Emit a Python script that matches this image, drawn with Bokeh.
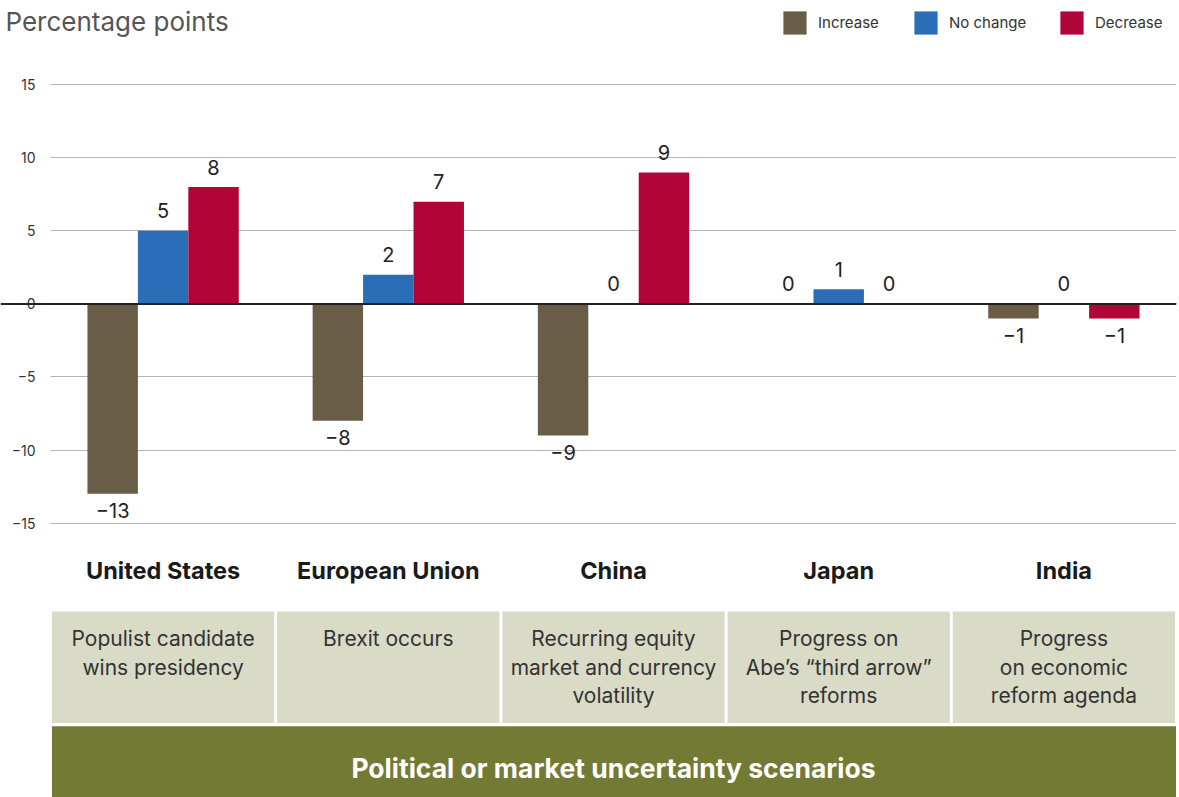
from bokeh.plotting import figure
from bokeh.models import (ColumnDataSource, Range1d, FixedTicker, Span,
                          Legend, LegendItem)
from bokeh.core.properties import value
from bokeh.embed import file_html
from bokeh.resources import INLINE

# ---- data ----
regions = ["United States", "European Union", "China", "Japan", "India"]
scenarios = [["Populist candidate", "wins presidency"],
             ["Brexit occurs"],
             ["Recurring equity", "market and currency", "volatility"],
             ["Progress on", "Abe\u2019s \u201cthird arrow\u201d", "reforms"],
             ["Progress", "on economic", "reform agenda"]]
increase = [-13, -8, -9, 0, -1]
no_change = [5, 2, 0, 1, 0]
decrease = [8, 7, 9, 0, -1]
series_names = ["Increase", "No change", "Decrease"]
y_ticks = [-15, -10, -5, 0, 5, 10, 15]
banner_text = "Political or market uncertainty scenarios"
y_title = "Percentage points"

colors = ["#6a5d48", "#2a6eb8", "#b10538"]
FONT = "Inter"
W, H = 1179, 797
PX = 14.61          # pixels per y unit
Y0 = 303.4          # pixel row of y = 0
GW = 225.2          # pixels per group
LEFT = 50           # pixel column where the groups start


def fmt(v):
    return ("\u2212" + str(abs(v))) if v < 0 else str(v)


def yv(py):
    return (Y0 - py) / PX


def xv(px):
    return -0.5 + (px - LEFT) / GW


p = figure(width=W, height=H, output_backend="svg", toolbar_location=None,
           x_range=Range1d(xv(0), 4.5), y_range=Range1d(yv(H), yv(0)),
           title=None, min_border_left=0, min_border_right=W - 1176,
           min_border_top=0, min_border_bottom=0, x_axis_location=None)
p.outline_line_color = None
p.xgrid.visible = False
grid = p.ygrid[0]
grid.ticker = FixedTicker(ticks=y_ticks)
grid.grid_line_color = "#b4b4b4"
grid.grid_line_width = 1
if "cross_bounds" in grid.properties():
    grid.cross_bounds = (-0.5, 4.5)
else:
    p.quad(left=[xv(0)], right=[-0.5], top=[yv(0)], bottom=[yv(H)],
           fill_color="white", line_color=None)

ax = p.yaxis[0]
ax.ticker = FixedTicker(ticks=y_ticks)
ax.major_label_overrides = {t: fmt(t) for t in y_ticks}
ax.axis_line_color = None
ax.major_tick_line_color = None
ax.minor_tick_line_color = None
ax.major_tick_out = 0
ax.major_tick_in = 0
ax.minor_tick_out = 0
ax.major_label_text_font = FONT
ax.major_label_text_font_size = "14px"
ax.major_label_text_color = "#333333"
ax.major_label_standoff = -35

# title
p.text(x=[xv(5)], y=[yv(20.5)], text=[y_title], text_baseline="middle",
       text_font=value(FONT), text_font_size="26px", text_color="#555555")

bw = 0.224
offsets = [-bw, 0.0, bw]
bar_renderers = []
for vals, off, col in zip([increase, no_change, decrease], offsets, colors):
    xs = [i + off for i in range(len(regions))]
    src = ColumnDataSource(dict(x=xs, top=vals))
    r = p.vbar(x="x", top="top", bottom=0, width=bw, source=src,
               fill_color=col, line_color=None)
    bar_renderers.append(r)
    pos = ColumnDataSource(dict(x=[x for x, v in zip(xs, vals) if v >= 0],
                                y=[v for v in vals if v >= 0],
                                t=[fmt(v) for v in vals if v >= 0]))
    neg = ColumnDataSource(dict(x=[x for x, v in zip(xs, vals) if v < 0],
                                y=[v for v in vals if v < 0],
                                t=[fmt(v) for v in vals if v < 0]))
    for s, yo in ((pos, -20), (neg, 17)):
        p.text(x="x", y="y", text="t", source=s, text_align="center",
               text_baseline="middle", y_offset=yo, text_font=value(FONT),
               text_font_size="20px", text_color="#222222")

p.add_layout(Span(location=0, dimension="width", line_color="#222222", line_width=2))

xi = list(range(len(regions)))
# region labels
p.text(x=xi, y=[yv(569.7)] * 5, text=regions, text_align="center",
       text_baseline="middle", text_font=value(FONT), text_font_style="bold",
       text_font_size="23.5px", text_color="#1a1a1a")

# scenario boxes
g = 0.0065
p.quad(left=[i - 0.5 + g for i in xi], right=[i + 0.5 - g for i in xi],
       top=[yv(611)] * 5, bottom=[yv(722.5)] * 5,
       fill_color="#d9dbc6", line_color=None)
lx, ly, lt = [], [], []
for i, lines in enumerate(scenarios):
    for k, line in enumerate(lines):
        lx.append(i)
        ly.append(yv(638 + 28.7 * k))
        lt.append(line)
p.text(x=lx, y=ly, text=lt, text_align="center", text_baseline="middle",
       text_font=value(FONT), text_font_size="21px", text_color="#333333")

# banner
p.quad(left=[-0.5 + g], right=[4.5 - 0.002], top=[yv(725.7)],
       bottom=[yv(H) - 1], fill_color="#737a34", line_color=None)
p.text(x=[2], y=[yv(767)], text=[banner_text], text_align="center",
       text_baseline="middle", text_font=value(FONT), text_font_style="bold",
       text_font_size="26.5px", text_color="white")

# legend: one box per series, placed like the reference
legend_x = [780, 911, 1057]
for name, r, lx0 in zip(series_names, bar_renderers, legend_x):
    lg = Legend(items=[LegendItem(label=name, renderers=[r])], location=(lx0, H - 37),
                glyph_width=29, glyph_height=29, label_height=29, label_standoff=9,
                padding=0, margin=0, border_line_color=None, background_fill_alpha=0,
                label_text_font=FONT, label_text_font_size="15px",
                label_text_color="#333333")
    p.add_layout(lg, "center")

open("out.html", "w").write(file_html(p, INLINE))
